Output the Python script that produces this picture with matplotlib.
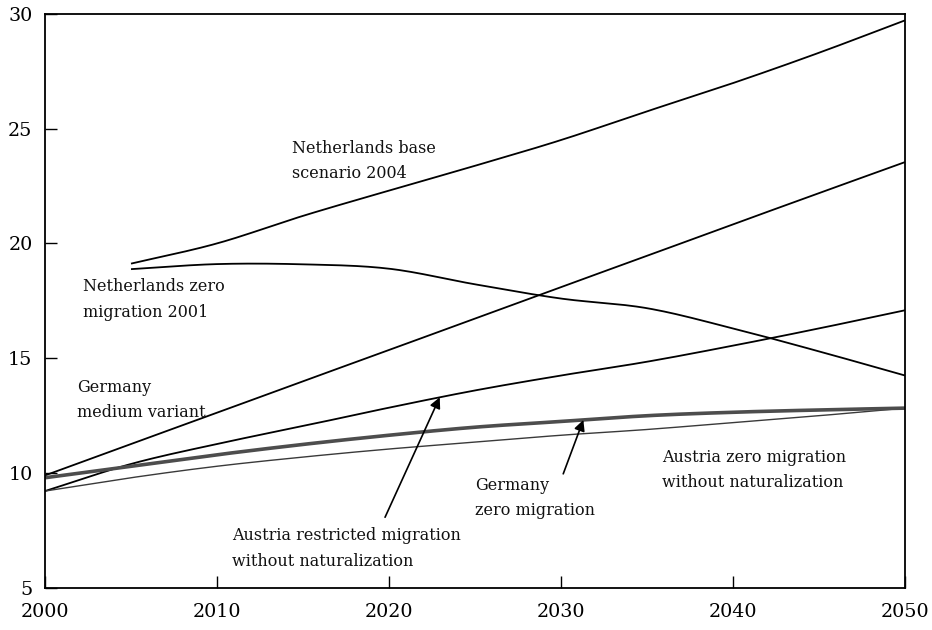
import numpy as np
import matplotlib
matplotlib.use("Agg")
import matplotlib.pyplot as plt

# Projected share of the foreign population (%), 2000-2050
years = [2000, 2005, 2010, 2015, 2020, 2025, 2030, 2035, 2040, 2045, 2050]
years_nl = [2005, 2010, 2015, 2020, 2025, 2030, 2035, 2040, 2045, 2050]

nl_base_2004 = [19.12, 20.0, 21.2, 22.3, 23.38, 24.5, 25.75, 26.98, 28.3, 29.71]
nl_zero_2001 = [18.88, 19.1, 19.09, 18.9, 18.22, 17.6, 17.18, 16.3, 15.3, 14.25]
de_medium = [9.9, 11.27, 12.63, 14.0, 15.36, 16.73, 18.1, 19.46, 20.83, 22.19, 23.54]
de_zero = [9.8, 10.3, 10.8, 11.25, 11.65, 12.0, 12.25, 12.5, 12.65, 12.75, 12.83]
at_restricted = [9.22, 10.4, 11.27, 12.05, 12.85, 13.6, 14.25, 14.85, 15.55, 16.3, 17.09]
at_zero = [9.22, 9.8, 10.3, 10.7, 11.05, 11.35, 11.65, 11.9, 12.2, 12.5, 12.83]

x_ticks = [2000, 2010, 2020, 2030, 2040, 2050]
y_ticks = [5, 10, 15, 20, 25, 30]

FONT = "DejaVu Serif"
FS = 11.5

fig = plt.figure(figsize=(9.32, 6.30), dpi=100)
ax = fig.add_axes([45 / 932, 1 - 588 / 630, 860 / 932, (588 - 13.7) / 630])


def smooth(xs, ys, n=200):
    """Smooth curve through the given points (cubic Hermite)."""
    xs = np.asarray(xs, float)
    ys = np.asarray(ys, float)
    h = np.diff(xs)
    d = np.diff(ys) / h
    m = np.empty_like(ys)
    m[0], m[-1] = d[0], d[-1]
    m[1:-1] = (d[:-1] + d[1:]) / 2
    xx = np.linspace(xs[0], xs[-1], n)
    idx = np.clip(np.searchsorted(xs, xx) - 1, 0, len(h) - 1)
    t = (xx - xs[idx]) / h[idx]
    h00 = 2 * t**3 - 3 * t**2 + 1
    h10 = t**3 - 2 * t**2 + t
    h01 = -2 * t**3 + 3 * t**2
    h11 = t**3 - t**2
    yy = (h00 * ys[idx] + h10 * h[idx] * m[idx]
          + h01 * ys[idx + 1] + h11 * h[idx] * m[idx + 1])
    return xx, yy


for xs, ys, color, lw in [
    (years_nl, nl_base_2004, "black", 1.3),
    (years_nl, nl_zero_2001, "black", 1.3),
    (years, de_medium, "black", 1.3),
    (years, at_restricted, "black", 1.3),
    (years, at_zero, "#3a3a3a", 1.0),
    (years, de_zero, "#4d4d4d", 2.6),
]:
    xx, yy = smooth(xs, ys)
    ax.plot(xx, yy, color=color, lw=lw, solid_capstyle="butt")

ax.set_xlim(2000, 2050)
ax.set_ylim(5, 30)
ax.set_xticks(x_ticks)
ax.set_yticks(y_ticks)
ax.tick_params(axis="both", direction="in", length=8.5, width=1.0,
               labelsize=13.8, color="black")
ax.tick_params(axis="x", pad=11)
ax.tick_params(axis="y", pad=9)
for lab in ax.get_xticklabels() + ax.get_yticklabels():
    lab.set_family(FONT)
for side in ["left", "right", "top", "bottom"]:
    ax.spines[side].set_linewidth(1.3)
    ax.spines[side].set_color("black")

text_kw = dict(family=FONT, fontsize=FS, ha="left", va="top",
               linespacing=1.65, color="#111111")
ax.text(2014.34, 24.5, "Netherlands base\nscenario 2004", **text_kw)
ax.text(2002.23, 18.48, "Netherlands zero\nmigration 2001", **text_kw)
ax.text(2001.84, 14.1, "Germany\nmedium variant", **text_kw)
ax.text(2010.85, 7.65, "Austria restricted migration\nwithout naturalization", **text_kw)
ax.text(2025.0, 9.83, "Germany\nzero migration", **text_kw)
ax.text(2035.9, 11.06, "Austria zero migration\nwithout naturalization", **text_kw)

# Arrows pointing onto the curves
arrow_kw = dict(arrowstyle="-|>", color="black", lw=1.2,
                mutation_scale=16, shrinkA=0, shrinkB=0)
xr, yr = smooth(years, at_restricted)
tip_x = 2022.95
ax.annotate("", xy=(tip_x, np.interp(tip_x, xr, yr)), xytext=(2019.77, 8.08),
            arrowprops=arrow_kw)
xg, yg = smooth(years, de_zero)
tip_x = 2031.3
ax.annotate("", xy=(tip_x, np.interp(tip_x, xg, yg)), xytext=(2030.13, 9.97),
            arrowprops=arrow_kw)

fig.savefig("out.png", dpi=100)
